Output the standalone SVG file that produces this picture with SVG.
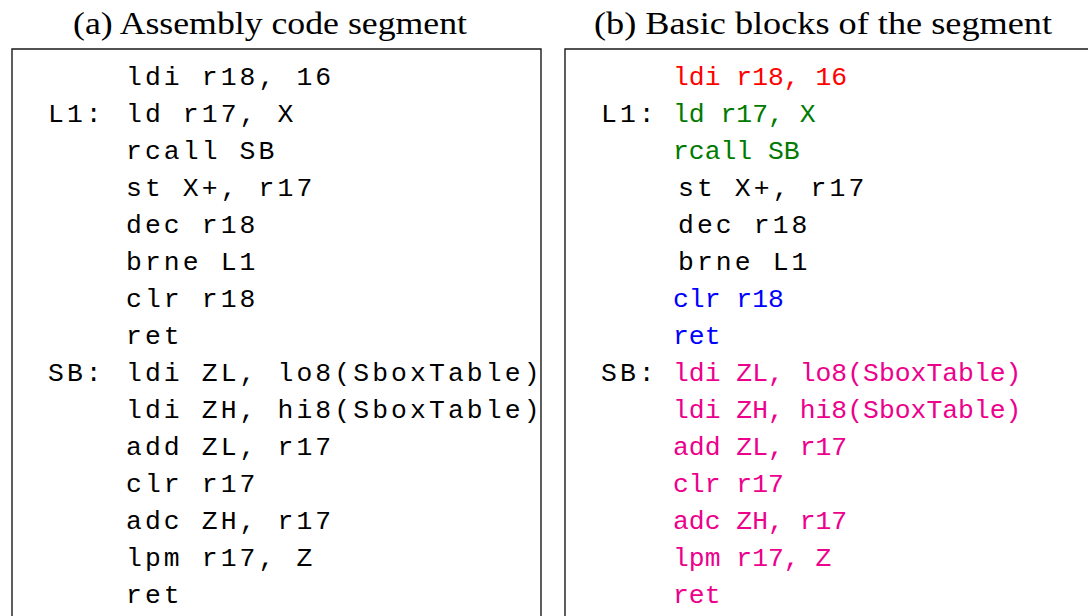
<svg xmlns="http://www.w3.org/2000/svg" width="1088" height="616" viewBox="0 0 1088 616">
  <style>
    .title { font-family: "Liberation Serif", "Times New Roman", serif; font-size: 32px; fill: #000; }
    .code { font-family: "Liberation Mono", "Courier New", monospace; font-size: 26.4px; }
    .wide { letter-spacing: 3.1px; fill: #000; }
    .frame { fill: none; stroke: #1a1a1a; stroke-width: 1.4; }
    .red { fill: #ff0000; }
    .green { fill: #007a00; }
    .blue { fill: #0000ff; }
    .pink { fill: #ec008c; }
  </style>
  <rect width="1088" height="616" fill="#ffffff"/>

  <!-- panel (a): plain listing -->
  <g id="panel-a">
    <text class="title" x="73" y="34" textLength="394" lengthAdjust="spacingAndGlyphs">(a) Assembly code segment</text>
    <path class="frame" d="M12,630 V49 H541 V630"/>
    <g class="code wide">
      <text x="126" y="85">ldi r18, 16</text>
      <text x="48" y="122">L1:</text>
      <text x="126" y="122">ld r17, X</text>
      <text x="126" y="159">rcall SB</text>
      <text x="126" y="196">st X+, r17</text>
      <text x="126" y="233">dec r18</text>
      <text x="126" y="270">brne L1</text>
      <text x="126" y="307">clr r18</text>
      <text x="126" y="344">ret</text>
      <text x="48" y="381">SB:</text>
      <text x="126" y="381">ldi ZL, lo8(SboxTable)</text>
      <text x="126" y="418">ldi ZH, hi8(SboxTable)</text>
      <text x="126" y="455">add ZL, r17</text>
      <text x="126" y="492">clr r17</text>
      <text x="126" y="529">adc ZH, r17</text>
      <text x="126" y="566">lpm r17, Z</text>
      <text x="126" y="603">ret</text>
    </g>
  </g>

  <!-- panel (b): listing coloured by basic block -->
  <g id="panel-b">
    <text class="title" x="594" y="34" textLength="458" lengthAdjust="spacingAndGlyphs">(b) Basic blocks of the segment</text>
    <path class="frame" d="M565,630 V49 H1100"/>
    <g class="code">
      <text class="wide" x="601" y="122">L1:</text>
      <text class="wide" x="601" y="381">SB:</text>

      <text class="red" x="673" y="85">ldi r18, 16</text>

      <text class="green" x="673" y="122">ld r17, X</text>
      <text class="green" x="673" y="159">rcall SB</text>

      <text class="wide" x="678" y="196">st X+, r17</text>
      <text class="wide" x="678" y="233">dec r18</text>
      <text class="wide" x="678" y="270">brne L1</text>

      <text class="blue" x="673" y="307">clr r18</text>
      <text class="blue" x="673" y="344">ret</text>

      <text class="pink" x="673" y="381">ldi ZL, lo8(SboxTable)</text>
      <text class="pink" x="673" y="418">ldi ZH, hi8(SboxTable)</text>
      <text class="pink" x="673" y="455">add ZL, r17</text>
      <text class="pink" x="673" y="492">clr r17</text>
      <text class="pink" x="673" y="529">adc ZH, r17</text>
      <text class="pink" x="673" y="566">lpm r17, Z</text>
      <text class="pink" x="673" y="603">ret</text>
    </g>
  </g>
</svg>
